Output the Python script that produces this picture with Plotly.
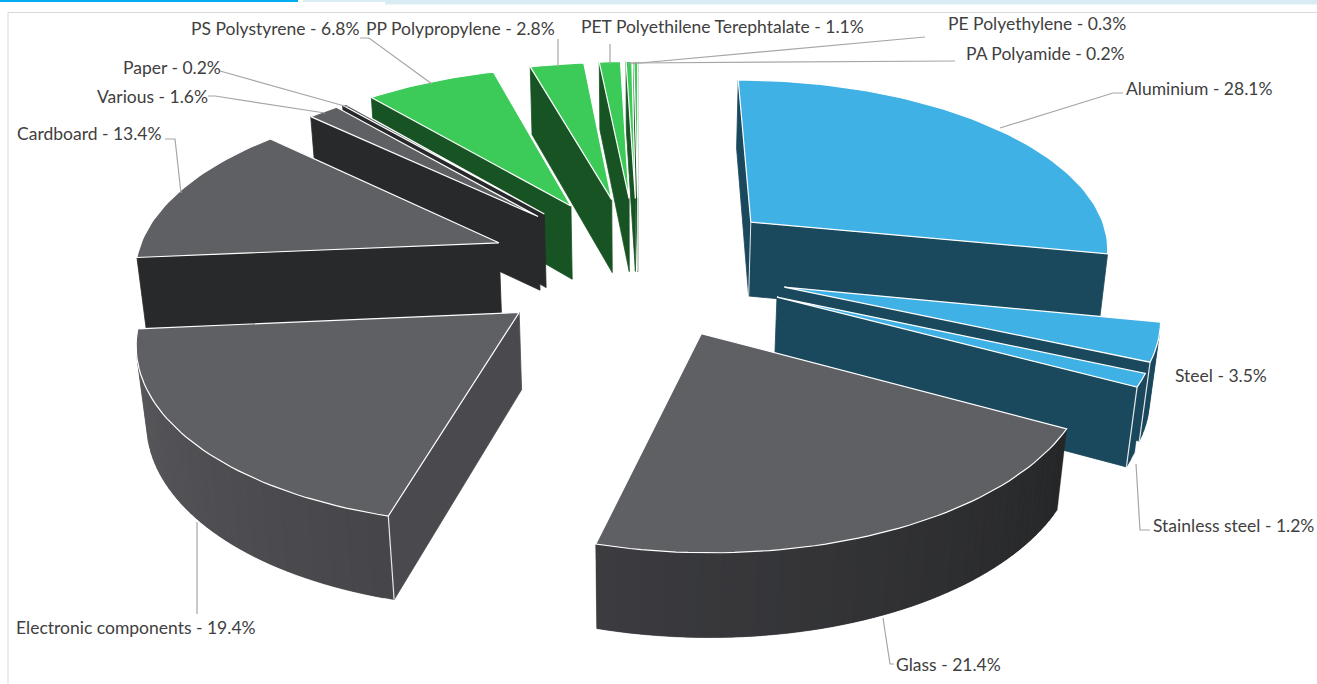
import numpy as np
import plotly.graph_objects as go

categories = ["Aluminium", "Steel", "Stainless steel", "Glass", "Electronic components",
              "Cardboard", "Various", "Paper", "PS Polystyrene", "PP Polypropylene",
              "PET Polyethilene Terephtalate", "PE Polyethylene", "PA Polyamide"]
values = [28.1, 3.5, 1.2, 21.4, 19.4, 13.4, 1.6, 0.2, 6.8, 2.8, 1.1, 0.3, 0.2]
groups = ["metal", "metal", "metal", "grey", "grey", "grey", "grey", "grey",
          "green", "green", "green", "green", "green"]

TOP = {"metal": "#3FB1E5", "grey": "#5F6064", "green": "#3CCB58"}
WALL = {"metal": "#1A485D", "grey": "#28292B", "green": "#185423"}
# lit side faces: category -> colours of its outer wall at start / end of its arc
ARC_SHADE = {"Glass": ((38, 39, 41), (60, 60, 64)),
             "Electronic components": ((70, 70, 74), (90, 90, 94))}
START_WALL = {"Electronic components": "#4A4A4E"}

# camera of the 3-D pie
X0, Y0, A, B, C, K, M, EXPL = 638.5, 265.5, 364.0, 171.0, 77.0, 0.13, 0.02, 0.413


def proj(u, v, bottom=False):
    w = 1 + K * v + (M if bottom else 0)
    return X0 + A * u / w, Y0 - (B * v - (C if bottom else 0)) / w


def rgb(c):
    return "rgb(%d,%d,%d)" % tuple(int(round(x)) for x in c)


def area(p):
    x = np.array([q[0] for q in p]); y = np.array([q[1] for q in p])
    return np.sum(x * np.roll(y, -1) - np.roll(x, -1) * y)


fig = go.Figure()


def poly(pts, color, closed=True, lw=0.8, line=None):
    xs = [p[0] for p in pts] + ([pts[0][0]] if closed else [])
    ys = [p[1] for p in pts] + ([pts[0][1]] if closed else [])
    fig.add_trace(go.Scatter(x=xs, y=ys, mode="lines", fill="toself" if closed else None,
                             fillcolor=color if closed else None,
                             line=dict(color=line or color, width=lw),
                             hoverinfo="skip", showlegend=False))


total = sum(values)
edges = np.cumsum([0] + values) / total * 2 * np.pi
wedges = []
for i, name in enumerate(categories):
    t0, t1 = edges[i], edges[i + 1]
    mid = (t0 + t1) / 2
    wedges.append((EXPL * np.cos(mid), i, t0, t1, mid))

for cv, i, t0, t1, mid in sorted(wedges, key=lambda w: -w[0]):
    name, g = categories[i], groups[i]
    cu = EXPL * np.sin(mid)
    n = max(2, int(np.degrees(t1 - t0) / 1.5) + 1)
    th = np.linspace(t0, t1, n)
    T = [proj(cu + np.sin(a), cv + np.cos(a)) for a in th]
    Bt = [proj(cu + np.sin(a), cv + np.cos(a), True) for a in th]
    apexT, apexB = proj(cu, cv), proj(cu, cv, True)

    # outer wall, short overlapping bands so that it can be shaded without seams
    vis = []
    for j in range(n - 1):
        q = [T[j], T[j + 1], Bt[j + 1], Bt[j]]
        vis.append(area(q) < 0)
        if vis[-1]:
            e = min(j + 2, n - 1)
            q2 = [T[j], T[e], Bt[e], Bt[j]]
            if name in ARC_SHADE:
                c0, c1 = ARC_SHADE[name]
                f = (j / max(1, n - 2))
                col = rgb(np.array(c0) * (1 - f) + np.array(c1) * f)
            else:
                col = WALL[g]
            poly(q2, col, lw=0.3)
    # radial walls
    qs = [apexT, T[0], Bt[0], apexB]
    qe = [T[-1], apexT, apexB, Bt[-1]]
    vs, ve = area(qs) < 0, area(qe) < 0
    if vs:
        poly(qs, START_WALL.get(name, WALL[g]))
    if ve:
        poly(qe, WALL[g])
    # top
    poly([apexT] + T, TOP[g], lw=1.2, line="#FFFFFF")
    # shared vertical edges
    if vs and ve:
        poly([apexT, apexB], None, closed=False, lw=1, line="#E8E8E8")
    if vs and vis[0]:
        poly([T[0], Bt[0]], None, closed=False, lw=1.2, line="#E8E8E8")
    if ve and vis[-1]:
        poly([T[-1], Bt[-1]], None, closed=False, lw=1.2, line="#E8E8E8")

# category label text
labels = ["%s - %.1f%%" % (c, v) for c, v in zip(categories, values)]
LABEL_POS = {"Aluminium": (1124, 88), "Steel": (1173, 375), "Stainless steel": (1151, 525),
             "Glass": (894, 664), "Electronic components": (14, 627), "Cardboard": (15, 133),
             "Various": (95, 96), "Paper": (121, 67), "PS Polystyrene": (189, 28),
             "PP Polypropylene": (364, 28), "PET Polyethilene Terephtalate": (579, 26),
             "PE Polyethylene": (946, 23), "PA Polyamide": (964, 53)}
LEADERS = [[(1000, 128), (1113, 93), (1123, 93)],
           [(1136, 464), (1140, 530), (1150, 530)],
           [(883, 618), (890, 664), (894, 664)],
           [(197, 522), (197, 614)],
           [(181, 193), (175, 139), (165, 139)],
           [(325, 113), (215, 96), (208, 96)],
           [(348, 107), (220, 71)],
           [(432, 84), (369, 38), (360, 38)],
           [(558, 67), (558, 39)],
           [(610, 64), (610, 44)],
           [(629, 64), (925, 37)],
           [(629, 63), (955, 61)]]
for L in LEADERS:
    fig.add_trace(go.Scatter(x=[p[0] for p in L], y=[p[1] for p in L], mode="lines",
                             line=dict(color="#A6A6A6", width=1.2),
                             hoverinfo="skip", showlegend=False))
annots = []
for c, t in zip(categories, labels):
    x, y = LABEL_POS[c]
    annots.append(dict(x=x, y=y, xref="x", yref="y", text=t, showarrow=False,
                       xanchor="left", yanchor="middle",
                       font=dict(family="Lato", size=17.5, color="#404040")))

shapes = [
    dict(type="rect", x0=0, x1=298, y0=0, y1=2, fillcolor="#00AEEF", line_width=0),
    dict(type="rect", x0=303, x1=385, y0=0, y1=2, fillcolor="#D9EBF3", line_width=0),
    dict(type="rect", x0=385, x1=1317, y0=0, y1=4.5, fillcolor="#D9EBF3", line_width=0),
    dict(type="line", x0=8, x1=1317, y0=12.5, y1=12.5, line=dict(color="#D9D9D9", width=1)),
    dict(type="line", x0=8, x1=8, y0=12.5, y1=684, line=dict(color="#D9D9D9", width=1)),
]
fig.update_layout(width=1317, height=684, margin=dict(l=0, r=0, t=0, b=0), autosize=False,
                  paper_bgcolor="white", plot_bgcolor="white", shapes=shapes, annotations=annots,
                  xaxis=dict(range=[0, 1317], visible=False, fixedrange=True),
                  yaxis=dict(range=[684, 0], visible=False, fixedrange=True))
fig.write_html("out.html", config={"displayModeBar": False},
               post_script="document.body.style.margin='0';document.documentElement.style.overflow='hidden';")
